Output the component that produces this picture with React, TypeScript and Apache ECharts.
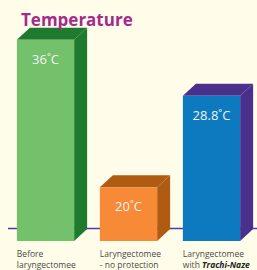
import React, { useEffect, useRef } from "react";
import * as echarts from "echarts";

const categories = [
  "Before\nlaryngectomee",
  "Laryngectomee\n- no protection",
  "Laryngectomee\nwith {b|Trachi-Naze}",
];
const temperatures = [36, 20, 28.8];
const valueLabels = ["36˚C", "20˚C", "28.8˚C"];

const frontColors = ["#73C16B", "#F68A36", "#0D79BF"];
const darkColors = ["#1D7A2E", "#B05B12", "#4A2F8D"];

export default function App() {
  const ref = useRef<HTMLDivElement>(null);
  useEffect(() => {
    document.body.style.margin = "0";
    const chart = echarts.init(ref.current!, null, { renderer: "svg" });
    const data = temperatures.map((v, i) => [i, v]);
    chart.setOption({
      animation: false,
      backgroundColor: "#FFFDEA",
      title: {
        text: "Temperature",
        left: 16,
        top: 6,
        textStyle: {
          color: "#A52A8E",
          fontFamily: "Open Sans",
          fontWeight: "bold",
          fontSize: 17,
        },
      },
      grid: { left: 4, width: 249, top: 36, height: 205 },
      xAxis: { type: "category", data: categories, show: false },
      yAxis: { type: "log", min: 16.14, max: 36.56, show: false },
      graphic: [
        {
          type: "line",
          z: 0,
          shape: { x1: 8, y1: 228.5, x2: 257, y2: 228.5 },
          style: { stroke: "#4B3A9F", lineWidth: 1.5 },
        },
      ],
      series: [
        {
          type: "custom",
          z: 5,
          data,
          renderItem: (params: any, api: any) => {
            const idx = api.value(0);
            const val = api.value(1);
            const [cx, ty] = api.coord([idx, val]);
            const band = api.size([1, 0])[0];
            const w = band * 0.69;
            const x0 = cx - w / 2;
            const x1 = cx + w / 2;
            const cs = params.coordSys;
            const by = cs.y + cs.height;
            const dx = 13;
            const dy = 12;
            return {
              type: "group",
              children: [
                {
                  type: "polygon",
                  shape: {
                    points: [
                      [x0, ty],
                      [x0 + dx, ty - dy],
                      [x1 + dx, ty - dy],
                      [x1, ty],
                    ],
                  },
                  style: { fill: darkColors[idx] },
                },
                {
                  type: "polygon",
                  shape: {
                    points: [
                      [x1, ty],
                      [x1 + dx, ty - dy],
                      [x1 + dx, by - dy],
                      [x1, by],
                    ],
                  },
                  style: { fill: darkColors[idx] },
                },
                {
                  type: "rect",
                  shape: { x: x0, y: ty, width: w, height: by - ty },
                  style: { fill: frontColors[idx] },
                },
                {
                  type: "text",
                  x: cx,
                  y: ty + 19,
                  style: {
                    text: valueLabels[idx],
                    fill: "#F4F4F4",
                    fontFamily: "Open Sans",
                    fontSize: 13,
                    align: "center",
                    verticalAlign: "middle",
                  },
                },
                {
                  type: "text",
                  x: x0,
                  y: by + 7,
                  style: {
                    text: categories[idx],
                    fill: "#4A4A4A",
                    fontFamily: "Open Sans",
                    fontSize: 8.5,
                    lineHeight: 11,
                    align: "left",
                    verticalAlign: "top",
                    rich: {
                      b: {
                        fontFamily: "Open Sans",
                        fontSize: 8.5,
                        fontWeight: "bold",
                        fontStyle: "italic",
                        fill: "#222",
                        lineHeight: 11,
                      },
                    },
                  },
                },
              ],
            };
          },
        },
      ],
    });
    return () => chart.dispose();
  }, []);
  return <div ref={ref} style={{ width: 257, height: 270 }} />;
}
